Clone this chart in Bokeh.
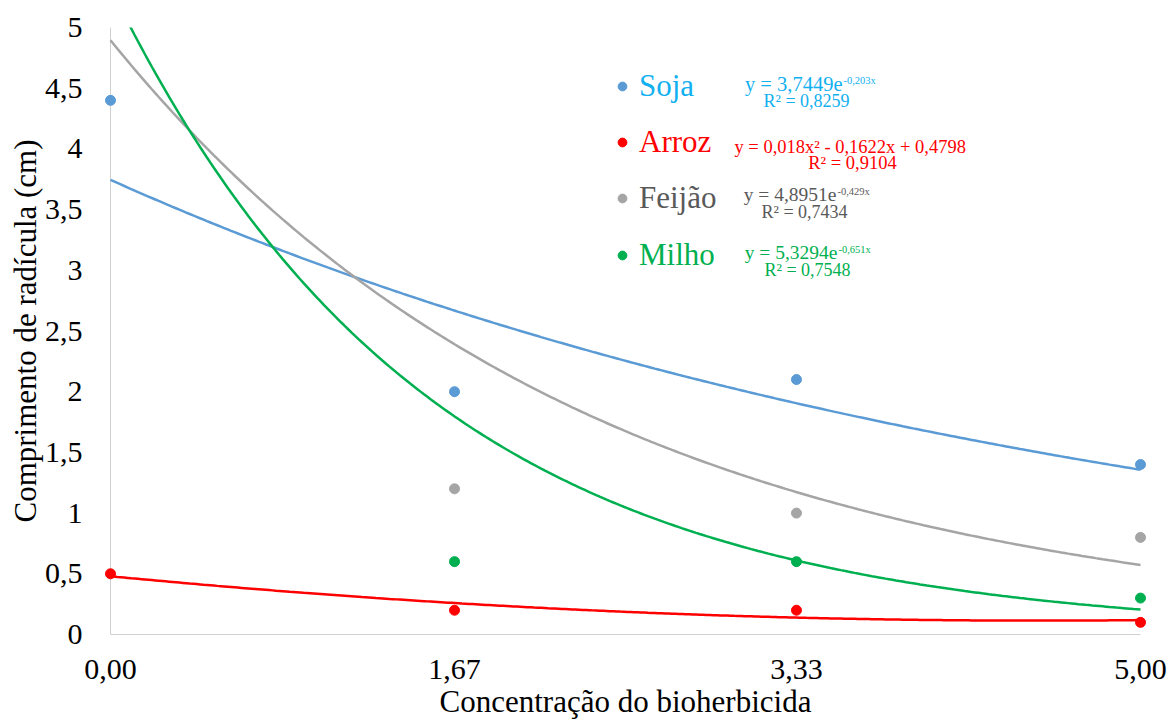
import numpy as np
from bokeh.plotting import figure
from bokeh.models import Range1d, Legend, LegendItem, Label, FixedTicker, Span
from bokeh.embed import file_html
from bokeh.resources import INLINE

# ---- data ----
conc = [0.0, 1.67, 3.33, 5.0]
x_tick_labels = ["0,00", "1,67", "3,33", "5,00"]
y_ticks = [0, 0.5, 1, 1.5, 2, 2.5, 3, 3.5, 4, 4.5, 5]
y_tick_labels = ["0", "0,5", "1", "1,5", "2", "2,5", "3", "3,5", "4", "4,5", "5"]

soja = [4.4, 2.0, 2.1, 1.4]
arroz = [0.5, 0.2, 0.2, 0.1]
feijao = [8.2, 1.2, 1.0, 0.8]     # first point lies above the visible range
milho = [11.1, 0.6, 0.6, 0.3]     # first point lies above the visible range

# trend-line coefficients as printed on the chart
soja_exp = (3.7449, -0.203)
feijao_exp = (4.8951, -0.429)
milho_exp = (5.3294, -0.651)
arroz_poly = (0.018, -0.1622, 0.4798)

series_names = ["Soja", "Arroz", "Feijão", "Milho"]
eq_main = ["y = 3,7449e", "y = 0,018x² - 0,1622x  + 0,4798", "y = 4,8951e", "y = 5,3294e"]
eq_sup = ["-0,203x", "", "-0,429x", "-0,651x"]
r2_text = ["R² = 0,8259", "R² = 0,9104", "R² = 0,7434", "R² = 0,7548"]

# ---- styles ----
SERIF = "Liberation Serif"
dot_colors = ["#5B9BD5", "#FF0000", "#A5A5A5", "#00B050"]
line_colors = ["#5B9BD5", "#FF0000", "#A5A5A5", "#00B050"]
text_colors = ["#12B0F0", "#FF0000", "#595959", "#00B050"]
AXIS_GREY = "#D0D0D0"

W, H = 1170, 724
PX_PER_X = 206.0   # pixels per x unit (0 -> x=110, 5 -> x=1140)
PX_PER_Y = 121.4   # pixels per y unit (0 -> y=634, 5 -> y=27)
pad = 12 / PX_PER_X

p = figure(width=W, height=H, output_backend="svg", toolbar_location=None,
           x_range=Range1d(-pad, 5 + pad), y_range=Range1d(0, 5),
           min_border_left=98, min_border_right=18, min_border_top=27, min_border_bottom=90)
p.outline_line_color = None
p.xgrid.visible = False
p.ygrid.visible = False
p.background_fill_color = "white"

xg = np.linspace(0, 5, 300)
fits = [
    soja_exp[0] * np.exp(soja_exp[1] * xg),
    arroz_poly[0] * xg ** 2 + arroz_poly[1] * xg + arroz_poly[2],
    feijao_exp[0] * np.exp(feijao_exp[1] * xg),
    milho_exp[0] * np.exp(milho_exp[1] * xg),
]
values = [soja, arroz, feijao, milho]

# vertical axis line sits at x = 0
p.add_layout(Span(location=0, dimension="height", line_color=AXIS_GREY, line_width=1, level="underlay"))

scatters = []
for i in range(4):
    p.line(xg, fits[i], line_color=line_colors[i], line_width=2.5)
for i in range(4):
    r = p.scatter(conc, values[i], size=10, fill_color=dot_colors[i], line_color=dot_colors[i])
    scatters.append(r)

# axes
xa = p.xaxis[0]
ya = p.yaxis[0]
for ax in (xa, ya):
    ax.axis_line_color = AXIS_GREY
    ax.axis_line_width = 1
    ax.major_tick_line_color = None
    ax.minor_tick_line_color = None
    ax.major_tick_out = 0
    ax.major_tick_in = 0
    ax.major_label_text_font = SERIF
    ax.major_label_text_font_size = "30px"
    ax.major_label_text_color = "black"
    ax.axis_label_text_font = SERIF
    ax.axis_label_text_font_size = "31px"
    ax.axis_label_text_font_style = "normal"
    ax.axis_label_text_color = "black"
ya.axis_line_color = None
xa.bounds = (0, 5)

xa.ticker = FixedTicker(ticks=conc)
xa.major_label_overrides = {c: s for c, s in zip(conc, x_tick_labels)}
ya.ticker = FixedTicker(ticks=y_ticks)
ya.major_label_overrides = {t: s for t, s in zip(y_ticks, y_tick_labels)}
xa.axis_label = "Concentração do bioherbicida"
ya.axis_label = "Comprimento de radícula (cm)"
xa.major_label_standoff = 25
xa.axis_label_standoff = 2
ya.major_label_standoff = 16
ya.axis_label_standoff = -1

# legends: one per series so each label keeps its colour
dot_page_y = [86, 142, 198, 255]
for i in range(4):
    yb = (634 - dot_page_y[i]) - 20
    lg = Legend(items=[LegendItem(label=series_names[i], renderers=[scatters[i]])],
                location=(513, yb), padding=0, margin=0, spacing=0,
                glyph_width=22, glyph_height=40, label_height=40, label_standoff=6,
                border_line_color=None, background_fill_alpha=0,
                label_text_font=SERIF, label_text_font_size="31px",
                label_text_color=text_colors[i])
    p.add_layout(lg)

SHIFT = 6  # compensation: rendered baselines come out a little lower


def dx(px):
    return (px - 110) / PX_PER_X


def dy(py):
    return (634 - (py - SHIFT)) / PX_PER_Y


main_pos = [(842, 89, "right"), (852, 152, "center"), (836, 200, "right"), (837, 258, "right")]
main_size = ["20.5px", "18.5px", "19.5px", "19.5px"]
r2_size = ["18px", "18.5px", "18px", "18px"]
r2_pos = [(806, 106), (852, 168), (804, 217), (807, 275)]
for i in range(4):
    mx, my, al = main_pos[i]
    p.add_layout(Label(x=dx(mx), y=dy(my), text=eq_main[i], text_align=al,
                       text_baseline="alphabetic", text_font=SERIF,
                       text_font_size=main_size[i], text_color=text_colors[i]))
    if eq_sup[i]:
        p.add_layout(Label(x=dx(mx + 1), y=dy(my - 3), text=eq_sup[i], text_align="left",
                           text_baseline="alphabetic", text_font=SERIF,
                           text_font_size="10.5px", text_color=text_colors[i]))
    rx, ry = r2_pos[i]
    p.add_layout(Label(x=dx(rx), y=dy(ry), text=r2_text[i], text_align="center",
                       text_baseline="alphabetic", text_font=SERIF,
                       text_font_size=r2_size[i], text_color=text_colors[i]))

open("out.html", "w").write(file_html(p, INLINE))
